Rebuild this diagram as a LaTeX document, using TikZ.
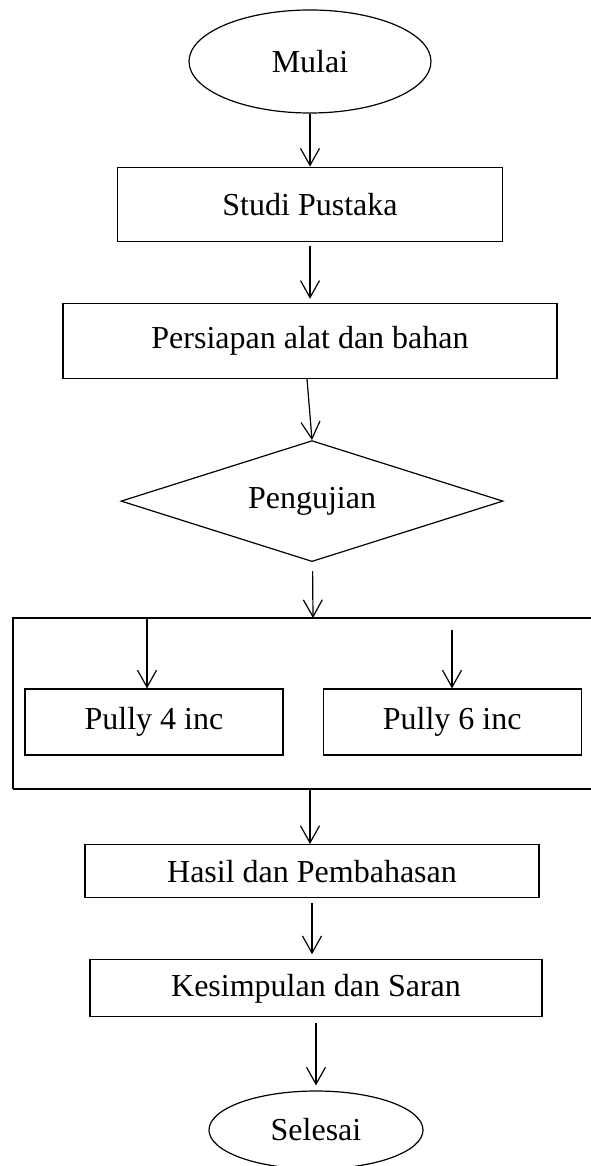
\documentclass[tikz,border=0pt]{standalone}
\usepackage{fontspec}
\setmainfont{Liberation Serif}
\usetikzlibrary{arrows.meta,positioning,shapes.geometric}

\begin{document}
\begin{tikzpicture}[->,>={Straight Barb[length=17pt,width=19pt]},x=1pt,y=-1pt,line width=1.2pt,node distance=60pt,font=\fontsize{32}{38}\selectfont]
	\tikzstyle{terminal}=[draw,ellipse,inner sep=0pt]
	\tikzstyle{proses}=[draw,rectangle,inner sep=0pt]
	\tikzstyle{keputusan}=[draw,diamond,inner sep=0pt,shape aspect=3]

	\useasboundingbox (0,0) rectangle (591,1166);

	\node[terminal,minimum width=242pt,minimum height=103pt] (mulai) at (310,61.5) {Mulai};
	\node[proses,minimum width=385pt,minimum height=74pt] (studi) [below = 53pt of mulai] {Studi Pustaka};
	\node[proses,minimum width=494pt,minimum height=75pt] (siap) [below = 61pt of studi] {Persiapan alat dan bahan};
	\node[keputusan,minimum width=382pt,minimum height=121pt] (uji) [below = 61pt of siap, xshift=2pt] {Pengujian};

	% kotak pengujian
	\coordinate (gatas) at (313,618);
	\coordinate (gbawah) at (310,789);
	\coordinate (cab1) at (147,618);
	\coordinate (cab2) at (452,630);
	\draw[-] (591,618) -- (13,618) -- (13,789);
	\draw[-,line width=2.4pt] (13,789) -- (591,789);

	\node[proses,minimum width=258pt,minimum height=66pt] (pully4) at (154,722) {Pully 4 inc};
	\node[proses,minimum width=258pt,minimum height=66pt] (pully6) [right = 39pt of pully4] {Pully 6 inc};

	\node[proses,minimum width=454pt,minimum height=53pt] (hasil) [below = 55pt of gbawah, xshift=2pt] {Hasil dan Pembahasan};
	\node[proses,minimum width=452pt,minimum height=57pt] (simpul) [below = 61pt of hasil, xshift=4pt] {Kesimpulan dan Saran};
	\node[terminal,minimum width=214pt,minimum height=78pt] (selesai) [below = 73pt of simpul] {Selesai};

	\path (mulai) edge (studi);
	\path (studi) edge[shorten <=4pt,shorten >=4pt] (siap);
	\draw ([xshift=-3pt]siap.south) -- (uji.north);
	\path (uji) edge[shorten <=9pt] (gatas);
	\draw (cab1) -- (cab1 |- pully4.north);
	\draw (cab2) -- (cab2 |- pully6.north);
	\draw (gbawah) -- (gbawah |- hasil.north);
	\draw[shorten <=5pt,shorten >=5pt] (hasil.south) -- (hasil.south |- simpul.north);
	\path (simpul) edge[shorten <=6pt,shorten >=5pt] (selesai);
\end{tikzpicture}
\end{document}
